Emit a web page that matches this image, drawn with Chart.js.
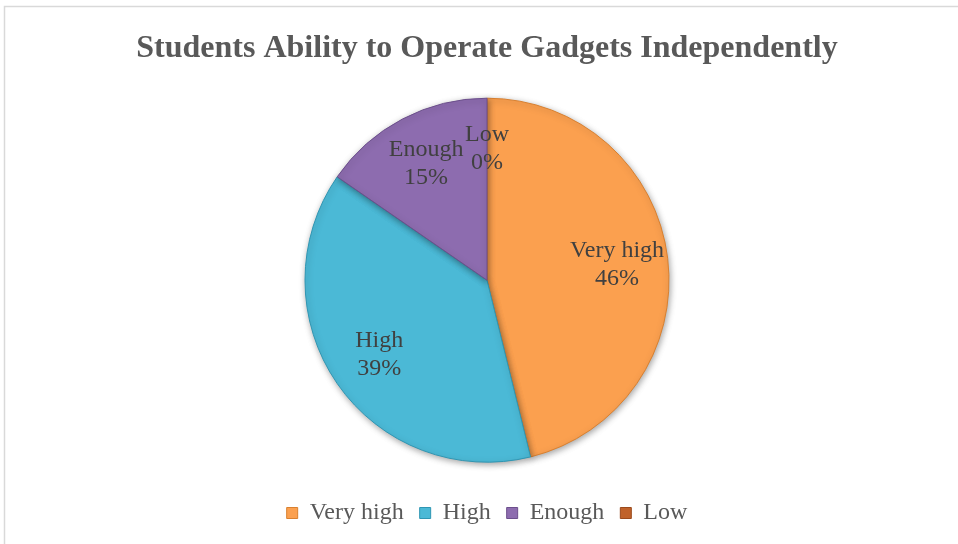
<!DOCTYPE html>
<html>
<head>
<meta charset="utf-8">
<script src="https://cdn.jsdelivr.net/npm/chart.js@4/dist/chart.umd.min.js"></script>
<style>
html,body{margin:0;padding:0;background:#fff;}
#wrap{width:958px;height:544px;position:relative;}
</style>
</head>
<body>
<div id="wrap"><canvas id="c" width="958" height="544"></canvas></div>
<script>
const categories = ["Very high", "High", "Enough", "Low"];
const counts = [12, 10, 4, 0];
const percentLabels = ["46%", "39%", "15%", "0%"];
const titleText = "Students Ability to Operate Gadgets Independently";

const fillColors = ["#FBA04F", "#4BB9D6", "#8D6CAF", "#C0622A"];
const edgeColors = ["#D9802F", "#2F96B3", "#6C4F8C", "#9A4A1C"];

const framePlugin = {
  id: "frame",
  beforeDraw(chart) {
    const ctx = chart.ctx;
    ctx.save();
    ctx.fillStyle = "#fff";
    ctx.fillRect(0, 0, chart.width, chart.height);
    ctx.strokeStyle = "#d9d9d9";
    ctx.lineWidth = 1.5;
    ctx.beginPath();
    ctx.moveTo(4.5, chart.height);
    ctx.lineTo(4.5, 6.5);
    ctx.lineTo(chart.width, 6.5);
    ctx.stroke();
    ctx.restore();
  }
};

const shadowPlugin = {
  id: "shadow",
  beforeDatasetDraw(chart) {
    const ctx = chart.ctx;
    ctx.save();
    ctx.shadowColor = "rgba(0,0,0,0.35)";
    ctx.shadowBlur = 6;
    ctx.shadowOffsetX = 1;
    ctx.shadowOffsetY = 2;
  },
  afterDatasetDraw(chart) {
    chart.ctx.restore();
  }
};

const labelPlugin = {
  id: "sliceLabels",
  afterDatasetsDraw(chart) {
    const ctx = chart.ctx;
    const meta = chart.getDatasetMeta(0);
    ctx.save();
    ctx.font = "24px 'Liberation Serif', 'Times New Roman', serif";
    ctx.fillStyle = "#404040";
    ctx.textAlign = "center";
    ctx.textBaseline = "middle";
    meta.data.forEach((arc, i) => {
      const p = arc.getProps(["x", "y", "startAngle", "endAngle", "outerRadius"], true);
      const mid = (p.startAngle + p.endAngle) / 2;
      const r = p.outerRadius * 0.72;
      const x = p.x + Math.cos(mid) * r;
      const y = p.y + Math.sin(mid) * r;
      ctx.fillText(categories[i], x, y - 14);
      ctx.fillText(percentLabels[i], x, y + 14);
    });
    ctx.restore();
  }
};

new Chart(document.getElementById("c"), {
  type: "pie",
  data: {
    labels: categories,
    datasets: [{
      data: counts,
      backgroundColor: fillColors,
      borderColor: edgeColors,
      borderWidth: 1,
      radius: 182
    }]
  },
  options: {
    responsive: false,
    animation: false,
    layout: { padding: { left: 16, right: 0, top: 0, bottom: 9 } },
    plugins: {
      title: {
        display: true,
        text: titleText,
        color: "#595959",
        font: { family: "'Liberation Serif', 'Times New Roman', serif", size: 32, weight: "bold" },
        padding: { top: 30, bottom: 7 }
      },
      legend: {
        display: true,
        position: "bottom",
        labels: {
          color: "#595959",
          font: { family: "'Liberation Serif', 'Times New Roman', serif", size: 24 },
          boxWidth: 11,
          boxHeight: 11,
          padding: 16
        }
      },
      tooltip: { enabled: false }
    }
  },
  plugins: [framePlugin, shadowPlugin, labelPlugin]
});
</script>
</body>
</html>
